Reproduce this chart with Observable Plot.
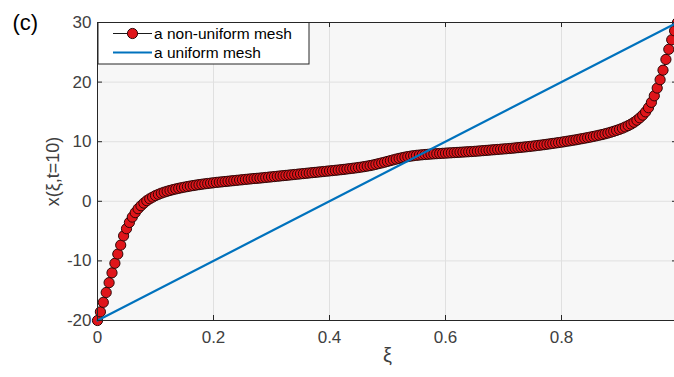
<!DOCTYPE html>
<html>
<head>
<meta charset="utf-8">
<script src="https://cdn.jsdelivr.net/npm/d3@7"></script>
<script src="https://cdn.jsdelivr.net/npm/@observablehq/plot@0.6"></script>
<style>
  html, body { margin: 0; padding: 0; background: white; }
  #wrap { width: 674px; height: 377px; overflow: hidden; position: relative; }
</style>
</head>
<body>
<div id="wrap"></div>
<script>
// Computational coordinate ξ of each mesh node (201 nodes)
const xi = [
  0, 0.005, 0.01, 0.015, 0.02, 0.025, 0.03, 0.035, 0.04, 0.045,
  0.05, 0.055, 0.06, 0.065, 0.07, 0.075, 0.08, 0.085, 0.09, 0.095,
  0.1, 0.105, 0.11, 0.115, 0.12, 0.125, 0.13, 0.135, 0.14, 0.145,
  0.15, 0.155, 0.16, 0.165, 0.17, 0.175, 0.18, 0.185, 0.19, 0.195,
  0.2, 0.205, 0.21, 0.215, 0.22, 0.225, 0.23, 0.235, 0.24, 0.245,
  0.25, 0.255, 0.26, 0.265, 0.27, 0.275, 0.28, 0.285, 0.29, 0.295,
  0.3, 0.305, 0.31, 0.315, 0.32, 0.325, 0.33, 0.335, 0.34, 0.345,
  0.35, 0.355, 0.36, 0.365, 0.37, 0.375, 0.38, 0.385, 0.39, 0.395,
  0.4, 0.405, 0.41, 0.415, 0.42, 0.425, 0.43, 0.435, 0.44, 0.445,
  0.45, 0.455, 0.46, 0.465, 0.47, 0.475, 0.48, 0.485, 0.49, 0.495,
  0.5, 0.505, 0.51, 0.515, 0.52, 0.525, 0.53, 0.535, 0.54, 0.545,
  0.55, 0.555, 0.56, 0.565, 0.57, 0.575, 0.58, 0.585, 0.59, 0.595,
  0.6, 0.605, 0.61, 0.615, 0.62, 0.625, 0.63, 0.635, 0.64, 0.645,
  0.65, 0.655, 0.66, 0.665, 0.67, 0.675, 0.68, 0.685, 0.69, 0.695,
  0.7, 0.705, 0.71, 0.715, 0.72, 0.725, 0.73, 0.735, 0.74, 0.745,
  0.75, 0.755, 0.76, 0.765, 0.77, 0.775, 0.78, 0.785, 0.79, 0.795,
  0.8, 0.805, 0.81, 0.815, 0.82, 0.825, 0.83, 0.835, 0.84, 0.845,
  0.85, 0.855, 0.86, 0.865, 0.87, 0.875, 0.88, 0.885, 0.89, 0.895,
  0.9, 0.905, 0.91, 0.915, 0.92, 0.925, 0.93, 0.935, 0.94, 0.945,
  0.95, 0.955, 0.96, 0.965, 0.97, 0.975, 0.98, 0.985, 0.99, 0.995,
  1
];

// Physical node positions x(ξ, t=10) of the adaptive (non-uniform) mesh
const xNonUniform = [
  -20.0, -18.55, -16.95, -15.3, -13.65, -12.0, -10.4, -8.85, -7.35, -5.8,
  -4.6, -3.55, -2.65, -1.9, -1.25, -0.75, -0.3, 0.1, 0.42, 0.7,
  0.95, 1.17, 1.36, 1.53, 1.68, 1.82, 1.95, 2.07, 2.18, 2.28,
  2.38, 2.47, 2.56, 2.64, 2.72, 2.79, 2.86, 2.93, 2.99, 3.05,
  3.11, 3.17, 3.22, 3.27, 3.32, 3.37, 3.42, 3.47, 3.52, 3.57,
  3.62, 3.67, 3.72, 3.77, 3.82, 3.86, 3.9, 3.95, 4.0, 4.05,
  4.1, 4.15, 4.2, 4.25, 4.3, 4.35, 4.4, 4.45, 4.5, 4.55,
  4.6, 4.65, 4.7, 4.75, 4.8, 4.85, 4.9, 4.95, 5.0, 5.05,
  5.1, 5.15, 5.2, 5.25, 5.3, 5.36, 5.42, 5.48, 5.54, 5.6,
  5.67, 5.74, 5.82, 5.9, 5.99, 6.09, 6.2, 6.32, 6.44, 6.56,
  6.69, 6.82, 6.95, 7.08, 7.2, 7.31, 7.41, 7.5, 7.58, 7.65,
  7.71, 7.76, 7.81, 7.85, 7.89, 7.93, 7.96, 7.99, 8.02, 8.05,
  8.08, 8.11, 8.14, 8.17, 8.2, 8.23, 8.26, 8.29, 8.32, 8.35,
  8.38, 8.42, 8.46, 8.5, 8.54, 8.58, 8.62, 8.66, 8.7, 8.74,
  8.78, 8.82, 8.86, 8.9, 8.95, 9.0, 9.05, 9.1, 9.15, 9.2,
  9.26, 9.32, 9.38, 9.44, 9.5, 9.57, 9.64, 9.71, 9.78, 9.85,
  9.92, 10.0, 10.08, 10.16, 10.24, 10.32, 10.41, 10.5, 10.59, 10.68,
  10.78, 10.88, 10.98, 11.09, 11.2, 11.32, 11.45, 11.59, 11.74, 11.9,
  12.07, 12.26, 12.47, 12.7, 12.95, 13.25, 13.6, 14.0, 14.45, 15.0,
  15.7, 16.6, 17.7, 19.0, 20.4, 22.0, 23.8, 25.5, 27.1, 28.6,
  30.0
];

// Uniform mesh: straight map from [0,1] onto [-20,30]
const xiUniform = [0, 1];
const xUniform = [-20, 30];

// Axis ticks and labels
const xTicks = [0, 0.2, 0.4, 0.6, 0.8];
const xTickLabels = ["0", "0.2", "0.4", "0.6", "0.8"];
const yTicks = [-20, -10, 0, 10, 20, 30];
const yTickLabels = ["-20", "-10", "0", "10", "20", "30"];

const seriesNames = ["a non-uniform mesh", "a uniform mesh"];
const panelTag = "(c)";
const xLabel = "ξ";
const yLabel = "x(ξ,t=10)";

const mesh = xi.map((v, i) => ({xi: v, x: xNonUniform[i]}));
const uniform = xiUniform.map((v, i) => ({xi: v, x: xUniform[i]}));

const W = 677, H = 377, ML = 97, MR = 0, MT = 22, MB = 57;
const innerW = W - ML - MR, innerH = H - MT - MB;
const axisColor = "#262626";
const labelColor = "#404040";
const font = "'Liberation Sans', Arial, Helvetica, sans-serif";

const markerFill = "#e0151a";
const markerEdge = "#2e0606";

const svg = Plot.plot({
  width: W,
  height: H,
  marginLeft: ML,
  marginRight: MR,
  marginTop: MT,
  marginBottom: MB,
  x: {domain: [0, 1]},
  y: {domain: [-20, 30]},
  style: {fontFamily: font, color: labelColor, background: "white", maxWidth: "none", overflow: "visible"},
  marks: [
    Plot.frame({fill: "#f7f7f7", stroke: "none"}),
    Plot.gridX(xTicks, {stroke: "#e0e0e0", strokeOpacity: 1, strokeWidth: 1}),
    Plot.gridY(yTicks, {stroke: "#e0e0e0", strokeOpacity: 1, strokeWidth: 1}),
    Plot.line(mesh, {x: "xi", y: "x", stroke: "#1a1a1a", strokeWidth: 1}),
    Plot.dot(mesh, {x: "xi", y: "x", r: 5.1, fill: markerFill, stroke: markerEdge, strokeWidth: 1}),
    Plot.line(uniform, {x: "xi", y: "x", stroke: "#0072BD", strokeWidth: 2.2}),
    Plot.frame({stroke: axisColor, strokeWidth: 1}),
    // inward ticks on all four sides
    Plot.tickX(xTicks, {insetTop: innerH - 5, stroke: axisColor}),
    Plot.tickX(xTicks, {insetBottom: innerH - 5, stroke: axisColor}),
    Plot.tickY(yTicks, {insetRight: innerW - 5, stroke: axisColor}),
    Plot.tickY(yTicks, {insetLeft: innerW - 5, stroke: axisColor}),
    Plot.axisX({ticks: xTicks, tickSize: 0, tickPadding: 10, fontSize: 17,
      tickFormat: d => xTickLabels[xTicks.indexOf(d)], label: null}),
    Plot.axisY({ticks: yTicks, tickSize: 0, tickPadding: 6, fontSize: 17,
      tickFormat: d => yTickLabels[yTicks.indexOf(d)], label: null}),
    Plot.text([yLabel], {frameAnchor: "left", dx: -44, rotate: -90, textAnchor: "middle",
      fontSize: 18, fill: labelColor}),
    Plot.text([xLabel], {frameAnchor: "bottom", dy: 41, fontSize: 20, fill: labelColor}),
    Plot.text([panelTag], {frameAnchor: "top-left", dx: -85, dy: 0, textAnchor: "start",
      lineAnchor: "middle", fontSize: 22, fill: "#000"})
  ]
});

// Legend box in the upper-left corner of the axes
const lg = d3.select(svg).append("g")
  .attr("font-family", font)
  .attr("text-anchor", "start");
lg.append("rect")
  .attr("x", 98).attr("y", 22.5).attr("width", 211).attr("height", 41.5)
  .attr("fill", "white").attr("stroke", axisColor).attr("stroke-width", 1);
lg.append("line")
  .attr("x1", 113).attr("x2", 152).attr("y1", 33.5).attr("y2", 33.5)
  .attr("stroke", "#1a1a1a").attr("stroke-width", 1);
lg.append("circle")
  .attr("cx", 132.5).attr("cy", 33.5).attr("r", 5.1)
  .attr("fill", markerFill).attr("stroke", markerEdge).attr("stroke-width", 1);
lg.append("line")
  .attr("x1", 113).attr("x2", 152).attr("y1", 52.5).attr("y2", 52.5)
  .attr("stroke", "#0072BD").attr("stroke-width", 2.2);
lg.selectAll("text.entry").data(seriesNames).join("text")
  .attr("class", "entry")
  .attr("x", 154).attr("y", (d, i) => 33.5 + i * 19)
  .attr("dy", "0.35em").attr("font-size", 15.5).attr("fill", "#000")
  .text(d => d);

document.getElementById("wrap").appendChild(svg);
</script>
</body>
</html>
